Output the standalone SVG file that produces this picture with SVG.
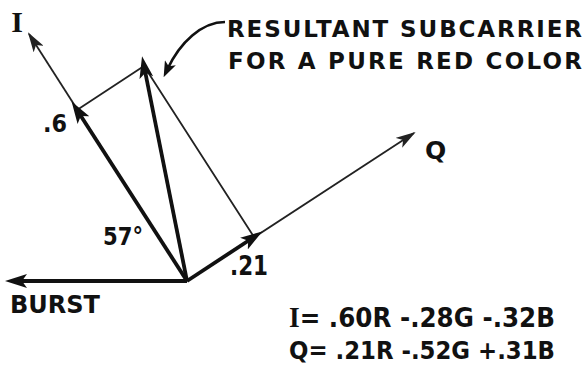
<svg xmlns="http://www.w3.org/2000/svg" width="587" height="369" viewBox="0 0 587 369">
<style>
.lbl{font-family:"DejaVu Sans","Liberation Sans",Arial,sans-serif;font-weight:bold;fill:#111}
.ser{font-family:"Liberation Serif","Times New Roman",serif;font-weight:bold}
.thin{stroke:#222;stroke-width:1.8;fill:none}
.thick{stroke:#111;stroke-width:3.8;fill:none;stroke-linecap:butt}
</style>
<defs>
<marker id="hd" viewBox="0 0 22 14" refX="12" refY="7" markerWidth="22" markerHeight="14" markerUnits="userSpaceOnUse" orient="auto">
<path d="M0,0 L22,7 L0,14 L5,7 Z" fill="#111"/>
</marker>
<marker id="hdt" viewBox="0 0 20 12" refX="18" refY="6" markerWidth="20" markerHeight="12" markerUnits="userSpaceOnUse" orient="auto">
<path d="M0,0 L20,6 L0,12 L5,6 Z" fill="#222"/>
</marker>
<marker id="hdc" viewBox="0 0 16 12" refX="8" refY="6" markerWidth="16" markerHeight="12" markerUnits="userSpaceOnUse" orient="auto">
<path d="M0,0 L16,6 L0,12 L4,6 Z" fill="#111"/>
</marker>
</defs>
<rect width="587" height="369" fill="#fff"/>
<g id="connectors">
<line class="thin" x1="187" y1="281" x2="29" y2="34" marker-end="url(#hdt)"/>
<line class="thin" x1="187" y1="281" x2="414" y2="133" marker-end="url(#hdt)"/>
<polyline class="thin" points="77,110 144,66 254,237"/>
<line class="thick" x1="187" y1="281" x2="15" y2="281" marker-end="url(#hd)"/>
<line class="thick" x1="187" y1="281" x2="77" y2="110" marker-end="url(#hd)"/>
<line class="thick" x1="187" y1="281" x2="144" y2="66" marker-end="url(#hd)"/>
<line class="thick" x1="187" y1="281" x2="254" y2="237" marker-end="url(#hd)"/>
<path d="M225 22 C202 22 180 42 167 70" stroke="#111" stroke-width="2.6" fill="none" marker-end="url(#hdc)"/>
</g>
<g id="label-I"><text class="lbl ser" x="17" y="32" font-size="30" text-anchor="middle">I</text></g>
<g id="label-resultant">
<text class="lbl" x="227" y="37" font-size="23" textLength="355" lengthAdjust="spacing">RESULTANT SUBCARRIER</text>
<text class="lbl" x="228" y="69" font-size="23" textLength="354" lengthAdjust="spacing">FOR A PURE RED COLOR</text>
</g>
<g id="label-06"><text class="lbl" x="43" y="132" font-size="24" textLength="24" lengthAdjust="spacingAndGlyphs">.6</text></g>
<g id="label-Q"><text class="lbl" x="425" y="159" font-size="25">Q</text></g>
<g id="label-57"><text class="lbl" x="103" y="245" font-size="25" textLength="40" lengthAdjust="spacingAndGlyphs">57°</text></g>
<g id="label-021"><text class="lbl" x="230" y="275" font-size="27" textLength="38" lengthAdjust="spacingAndGlyphs">.21</text></g>
<g id="label-burst"><text class="lbl" x="10" y="313" font-size="25" textLength="90" lengthAdjust="spacingAndGlyphs">BURST</text></g>
<g id="equations">
<text class="lbl" x="289" y="327" font-size="26" textLength="266" lengthAdjust="spacingAndGlyphs"><tspan class="ser" font-size="29">I</tspan>= .60R -.28G -.32B</text>
<text class="lbl" x="289" y="359" font-size="25" textLength="266" lengthAdjust="spacingAndGlyphs">Q= .21R -.52G +.31B</text>
</g>
</svg>
